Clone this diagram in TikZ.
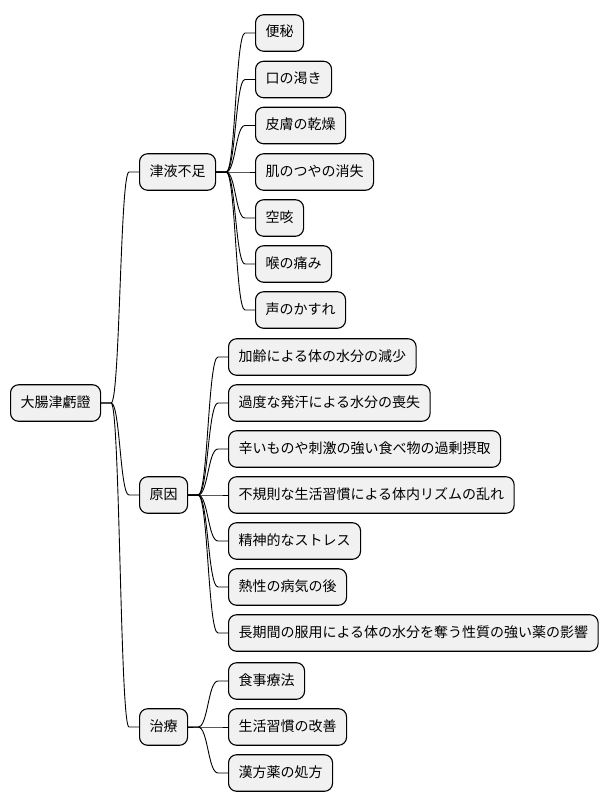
\documentclass[tikz,border=0pt]{standalone}
\usepackage{fontspec}
\setmainfont{Noto Sans CJK JP}
\usetikzlibrary{calc}
\tikzset{
  box/.style={draw=black, line width=1.1pt, fill=boxfill, rounded corners=8pt,
    anchor=west, inner xsep=10pt, inner ysep=0pt, minimum height=36.5pt,
    font=\fontsize{14}{16}\selectfont, text height=11pt, text depth=3pt},
  link/.style={draw=black, line width=0.9pt}
}
\definecolor{boxfill}{HTML}{F1F1F1}
\newcommand\mmlink[2]{%
  \path ($(#1.east)!0.5!(#2.west)$) coordinate (mm);
  \draw[link] (#1.east) -- ++(10,0) .. controls (mm |- #1.east) and (mm |- #2.west) .. ($(#2.west)+(-10,0)$) -- (#2.west);}
\begin{document}
\begin{tikzpicture}[x=1pt,y=-1pt]
\useasboundingbox (0,0) rectangle (608,808);
\node[box] (root) at (10,403) {大腸津虧證};
\node[box] (a) at (139,172) {津液不足};
\node[box] (b) at (139,495) {原因};
\node[box] (c) at (139,727) {治療};
\node[box] (a1) at (255,33) {便秘};
\node[box] (a2) at (255,79.5) {口の渇き};
\node[box] (a3) at (255,125.5) {皮膚の乾燥};
\node[box] (a4) at (255,172) {肌のつやの消失};
\node[box] (a5) at (255,218) {空咳};
\node[box] (a6) at (255,264) {喉の痛み};
\node[box] (a7) at (255,310) {声のかすれ};
\node[box] (b1) at (228,357) {加齢による体の水分の減少};
\node[box] (b2) at (228,403) {過度な発汗による水分の喪失};
\node[box] (b3) at (228,449) {辛いものや刺激の強い食べ物の過剰摂取};
\node[box] (b4) at (228,495) {不規則な生活習慣による体内リズムの乱れ};
\node[box] (b5) at (228,541) {精神的なストレス};
\node[box] (b6) at (228,587) {熱性の病気の後};
\node[box] (b7) at (228,633) {長期間の服用による体の水分を奪う性質の強い薬の影響};
\node[box] (c1) at (228,681) {食事療法};
\node[box] (c2) at (228,727) {生活習慣の改善};
\node[box] (c3) at (228,773) {漢方薬の処方};
\mmlink{root}{a}\mmlink{root}{b}\mmlink{root}{c}
\mmlink{a}{a1}\mmlink{a}{a2}\mmlink{a}{a3}\mmlink{a}{a4}\mmlink{a}{a5}\mmlink{a}{a6}\mmlink{a}{a7}
\mmlink{b}{b1}\mmlink{b}{b2}\mmlink{b}{b3}\mmlink{b}{b4}\mmlink{b}{b5}\mmlink{b}{b6}\mmlink{b}{b7}
\mmlink{c}{c1}\mmlink{c}{c2}\mmlink{c}{c3}
\end{tikzpicture}
\end{document}
